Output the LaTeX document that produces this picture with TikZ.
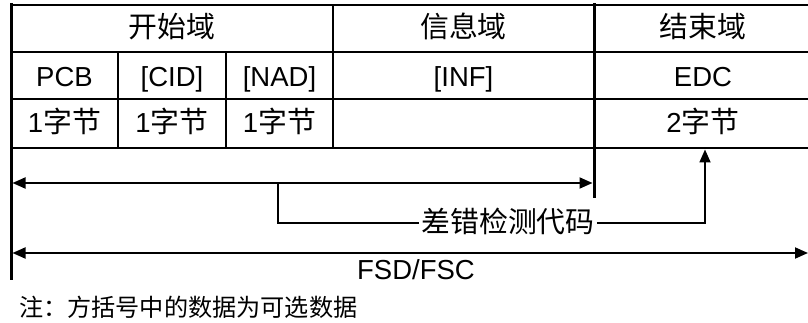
\documentclass[tikz,border=0pt]{standalone}
\usepackage{fontspec}
\setmainfont{Liberation Sans}
\newfontfamily\cjk[Scale=1.05]{Noto Sans CJK SC}
\usetikzlibrary{arrows.meta}
\begin{document}
\begin{tikzpicture}[x=1pt,y=-1pt,
  gridline/.style={line width=1.8pt},
  boldline/.style={line width=3pt},
  lbl/.style={font=\fontsize{27.5}{27.5}\selectfont, inner sep=0pt, text height=19pt, text depth=0pt},
  arr/.style={line width=1.8pt, -{Triangle[length=13pt,width=11pt]}},
  dblarr/.style={line width=1.8pt, {Triangle[length=13pt,width=11pt]}-{Triangle[length=13pt,width=11pt]}},
]
\useasboundingbox (0,0) rectangle (808,323);
% table
\draw[gridline] (11,5) -- (808,5);
\draw[gridline] (11,52) -- (808,52);
\draw[gridline] (11,99) -- (808,99);
\draw[gridline] (11,148) -- (808,148);
\draw[gridline] (118,52) -- (118,148);
\draw[gridline] (226,52) -- (226,148);
\draw[gridline] (333,5) -- (333,148);
\draw[boldline] (11,3.5) -- (11,280);
\draw[boldline] (594,3.5) -- (594,198);
% texts
\node[lbl] (start) at (172,28.5) {\cjk 开始域};
\node[lbl] (info) at (463.5,28.5) {\cjk 信息域};
\node[lbl] (fin) at (703,28.5) {\cjk 结束域};
\node[lbl] (pcb) at (64.5,77) {PCB};
\node[lbl] (cid) at (172,77) {[CID]};
\node[lbl] (nad) at (279.5,77) {[NAD]};
\node[lbl] (inf) at (463.5,77) {[INF]};
\node[lbl] (edc) at (703,77) {EDC};
\node[lbl] (b1) at (64.5,123.5) {1{\cjk 字节}};
\node[lbl] (b2) at (172,123.5) {1{\cjk 字节}};
\node[lbl] (b3) at (279.5,123.5) {1{\cjk 字节}};
\node[lbl] (b4) at (703,123.5) {2{\cjk 字节}};
% arrows
\coordinate (l1) at (12.5,183);
\coordinate (r1) at (592.5,183);
\draw[dblarr] (l1) -- (r1);
\coordinate (l2) at (12.5,253);
\coordinate (r2) at (808,253);
\draw[dblarr] (l2) -- (r2);
\node[lbl, inner sep=2pt] (err) at (508,223) {\cjk 差错检测代码};
\coordinate (br) at (278,183);
\coordinate (edcb) at (705,149.5);
\draw[gridline] (br) |- (err.west);
\draw[arr] (err.east) -| (edcb);
\node[lbl] (fsd) at (416,270) {FSD/FSC};
\node[font=\fontsize{23}{23}\selectfont, inner sep=0pt, anchor=west] (note) at (19,307) {\cjk 注：方括号中的数据为可选数据};
\end{tikzpicture}
\end{document}
